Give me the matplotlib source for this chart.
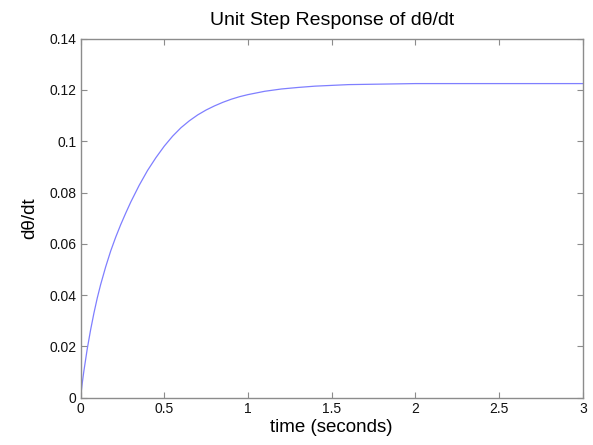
import numpy as np
import matplotlib.pyplot as plt

plt.rcParams['font.family'] = ['Liberation Sans', 'DejaVu Sans']

# step response
time = [0, 0.01, 0.02, 0.04, 0.06, 0.08, 0.10, 0.12, 0.15, 0.18, 0.21, 0.24,
        0.27, 0.30, 0.35, 0.40, 0.45, 0.50, 0.55, 0.60, 0.65, 0.70, 0.75,
        0.80, 0.85, 0.90, 0.95, 1.00, 1.10, 1.20, 1.30, 1.40, 1.50, 1.60,
        1.70, 1.80, 1.90, 2.00, 2.50, 3.00]
dtheta = [0, 0.0055, 0.0104, 0.0190, 0.0264, 0.0330, 0.0389, 0.0441, 0.0510,
          0.0572, 0.0626, 0.0675, 0.0720, 0.0763, 0.0828, 0.0886, 0.0936,
          0.0981, 0.1020, 0.1053, 0.1080, 0.1103, 0.1122, 0.1138, 0.1152,
          0.1164, 0.1174, 0.1182, 0.1195, 0.1204, 0.1210, 0.1215, 0.1218,
          0.1221, 0.1222, 0.1223, 0.1224, 0.1225, 0.1225, 0.1225]

xticks = [0, 0.5, 1, 1.5, 2, 2.5, 3]
xticklabels = ['0', '0.5', '1', '1.5', '2', '2.5', '3']
yticks = [0, 0.02, 0.04, 0.06, 0.08, 0.1, 0.12, 0.14]
yticklabels = ['0', '0.02', '0.04', '0.06', '0.08', '0.1', '0.12', '0.14']

fig = plt.figure(figsize=(5.93, 4.45), dpi=100)
ax = fig.add_axes([0.1358, 0.1063, 0.8472, 0.8067])

ax.plot(time, dtheta, color='#7f7fff', linewidth=0.9)

ax.set_xlim(0, 3)
ax.set_ylim(0, 0.14)
ax.set_xticks(xticks)
ax.set_xticklabels(xticklabels)
ax.set_yticks(yticks)
ax.set_yticklabels(yticklabels)

for sp in ax.spines.values():
    sp.set_color('#8c8c8c')
    sp.set_linewidth(1.0)
ax.tick_params(direction='in', length=4, width=0.8, color='#8c8c8c',
               labelsize=10, labelcolor='#111111',
               top=True, right=True, pad=3)

ax.set_title('Unit Step Response of d\u03b8/dt', fontsize=14, pad=10)
ax.set_xlabel('time (seconds)', fontsize=13.5, labelpad=2)
ax.set_ylabel('d\u03b8/dt', fontsize=13.5, labelpad=8)

fig.savefig('out.png', dpi=100)
